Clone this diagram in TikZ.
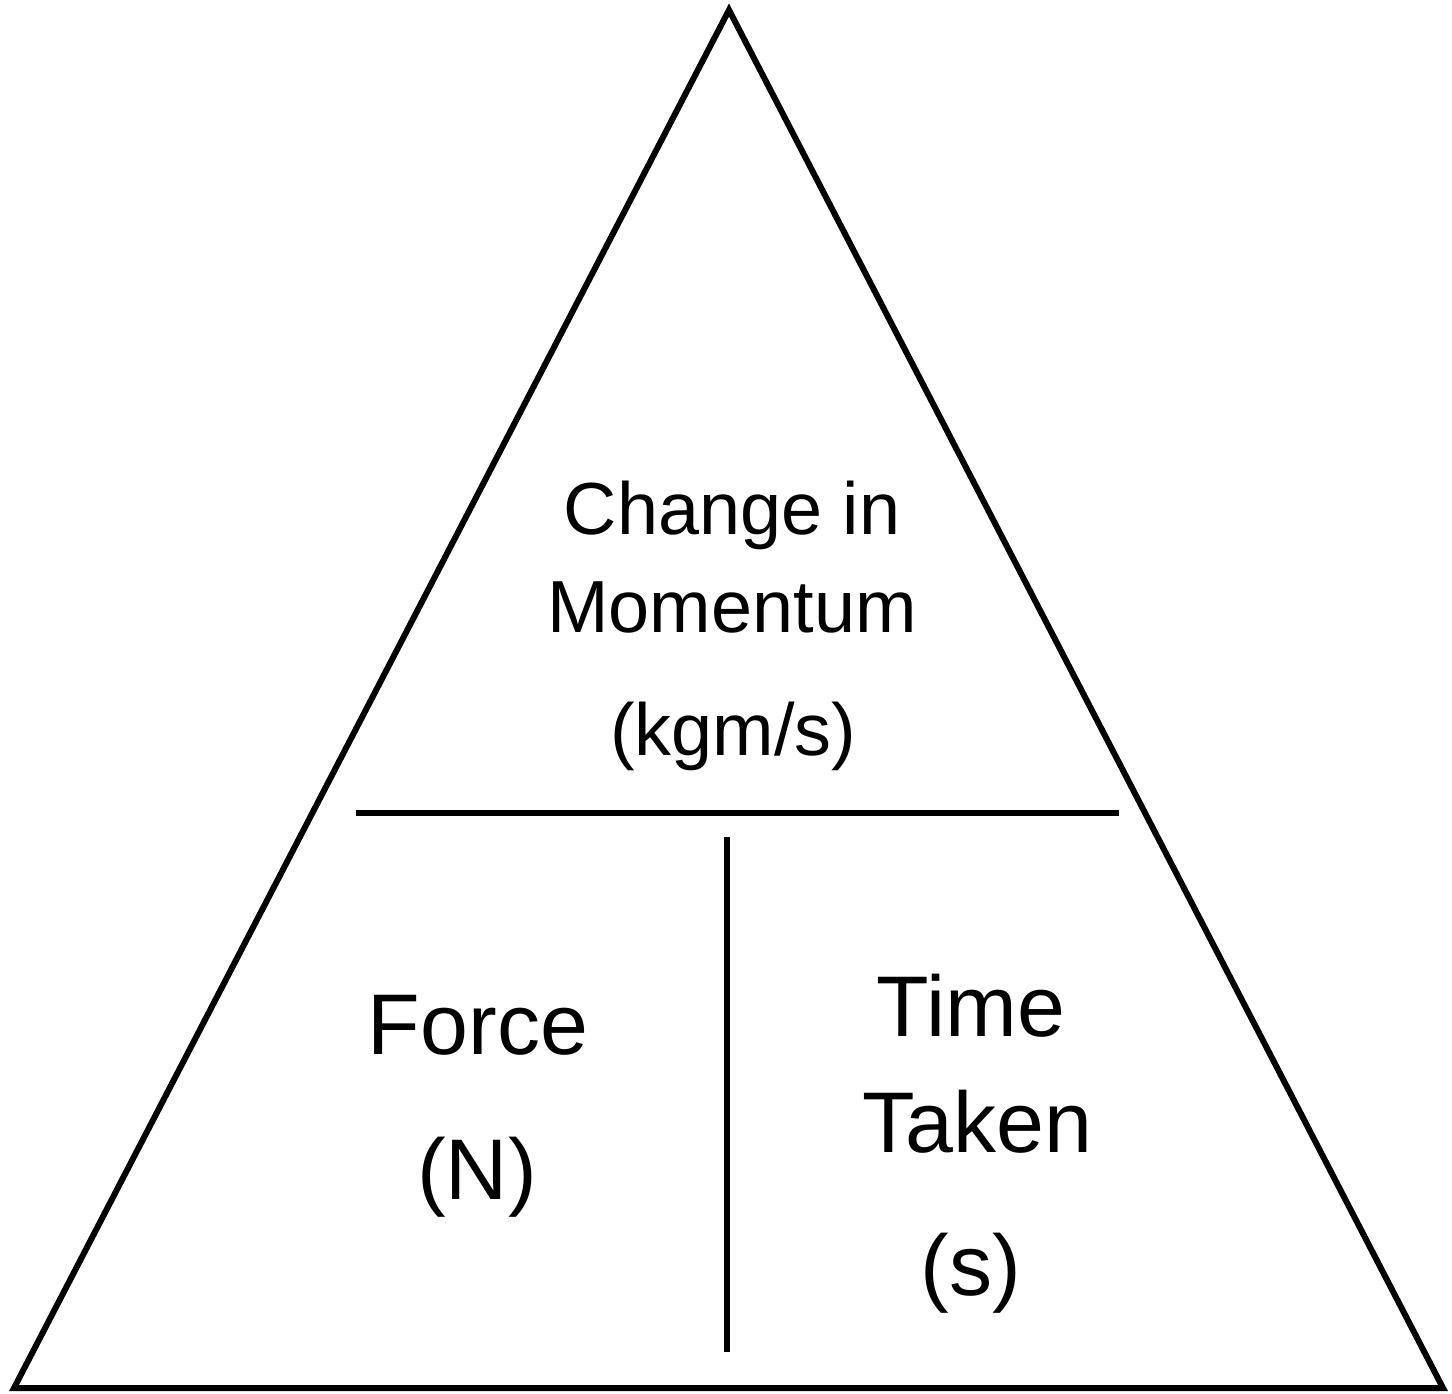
\documentclass[tikz,border=0pt]{standalone}
\usepackage{fontspec}
\setmainfont{Liberation Sans}
\tikzset{
	edge/.style={line width=0.06cm, line join=miter},
	toplabel/.style={font=\fontsize{21pt}{25pt}\selectfont, anchor=base, inner sep=0pt},
	botlabel/.style={font=\fontsize{24.5pt}{29pt}\selectfont, anchor=base, inner sep=0pt}
}
\begin{document}
\begin{tikzpicture}
			%%%%% START %%%%%
			
			\useasboundingbox (0, 0) rectangle (14.52, -13.93);
			
			\coordinate (apex) at (7.29, -0.10);
			\coordinate (bl) at (0.14, -13.88);
			\coordinate (br) at (14.43, -13.88);
			\draw[edge] (apex) -- (bl) -- (br) -- cycle;
			
			\coordinate (hl) at (3.56, -8.13);
			\coordinate (hr) at (11.19, -8.13);
			\draw[edge] (hl) -- (hr);
			
			\coordinate (vt) at (7.27, -8.37);
			\coordinate (vb) at (7.27, -13.52);
			\draw[edge] (vt) -- (vb);
			
			\node[toplabel] (change) at (7.32, -5.34) {Change in};
			\node[toplabel] (momentum) at (7.32, -6.32) {Momentum};
			\node[toplabel] (mom unit) at (7.33, -7.55) {(kgm/s)};
			
			\node[botlabel] (force) at (4.78, -10.54) {Force};
			\node[botlabel] (force unit) at (4.77, -11.99) {(N)};
			
			\node[botlabel] (time) at (9.71, -10.36) {Time};
			\node[botlabel] (taken) at (9.77, -11.52) {Taken};
			\node[botlabel] (time unit) at (9.71, -12.95) {(s)};
			
			%%%%% END %%%%%
		\end{tikzpicture}
\end{document}
